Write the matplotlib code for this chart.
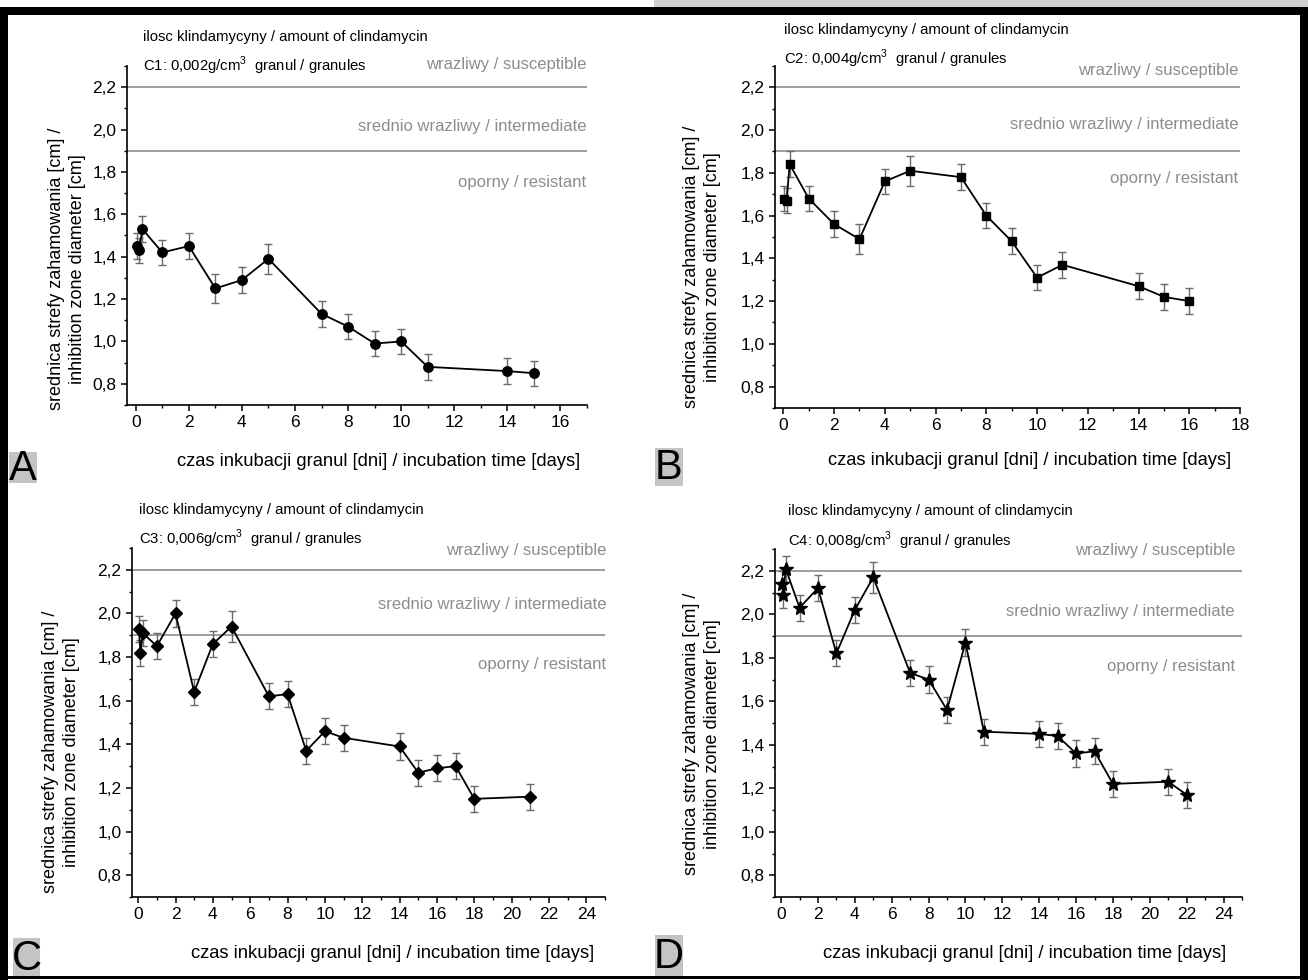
import matplotlib
matplotlib.use('Agg')
import matplotlib.pyplot as plt
from matplotlib.patches import Rectangle
from matplotlib.ticker import MultipleLocator, FuncFormatter
import numpy as np

W, H = 1308, 980

# sampling times [days]; first three are 1h, 3h, 6h
days_ab = [0.04, 0.125, 0.25, 1, 2, 3, 4, 5, 7, 8, 9, 10, 11, 14, 15, 16]
days_cd = [0.04, 0.125, 0.25, 1, 2, 3, 4, 5, 7, 8, 9, 10, 11, 14, 15, 16, 17, 18, 21, 22]

c1_days = days_ab[:15]
c1_mean = [1.45, 1.43, 1.53, 1.42, 1.45, 1.25, 1.29, 1.39, 1.13, 1.07, 0.99, 1.00, 0.88, 0.86, 0.85]
c1_err = [0.06, 0.06, 0.06, 0.06, 0.06, 0.07, 0.06, 0.07, 0.06, 0.06, 0.06, 0.06, 0.06, 0.06, 0.06]

c2_days = days_ab
c2_mean = [1.68, 1.67, 1.84, 1.68, 1.56, 1.49, 1.76, 1.81, 1.78, 1.60, 1.48, 1.31, 1.37, 1.27, 1.22, 1.20]
c2_err = [0.06, 0.06, 0.06, 0.06, 0.06, 0.07, 0.06, 0.07, 0.06, 0.06, 0.06, 0.06, 0.06, 0.06, 0.06, 0.06]

c3_days = days_cd[:17] + [18, 21]
c3_mean = [1.93, 1.82, 1.91, 1.85, 2.00, 1.64, 1.86, 1.94, 1.62, 1.63, 1.37, 1.46, 1.43, 1.39, 1.27, 1.29, 1.30, 1.15, 1.16]
c3_err = [0.06, 0.06, 0.06, 0.06, 0.06, 0.06, 0.06, 0.07, 0.06, 0.06, 0.06, 0.06, 0.06, 0.06, 0.06, 0.06, 0.06, 0.06, 0.06]

c4_days = days_cd
c4_mean = [2.14, 2.09, 2.21, 2.03, 2.12, 1.82, 2.02, 2.17, 1.73, 1.70, 1.56, 1.87, 1.46, 1.45, 1.44, 1.36, 1.37, 1.22, 1.23, 1.17]
c4_err = [0.06, 0.06, 0.06, 0.06, 0.06, 0.06, 0.06, 0.07, 0.06, 0.06, 0.06, 0.06, 0.06, 0.06, 0.06, 0.06, 0.06, 0.06, 0.06, 0.06]

susceptible_limit = 2.2
resistant_limit = 1.9

doses = ['C1: 0,002g/cm$^3$  granul / granules', 'C2: 0,004g/cm$^3$  granul / granules',
         'C3: 0,006g/cm$^3$  granul / granules', 'C4: 0,008g/cm$^3$  granul / granules']
letters = ['A', 'B', 'C', 'D']
header = 'ilosc klindamycyny / amount of clindamycin'
zone_labels = ['wrazliwy / susceptible', 'srednio wrazliwy / intermediate', 'oporny / resistant']
ylab = 'srednica strefy zahamowania [cm] /\ninhibition zone diameter [cm]'
xlab = 'czas inkubacji granul [dni] / incubation time [days]'

plt.rcParams['font.family'] = ['Liberation Sans', 'DejaVu Sans']
plt.rcParams['mathtext.fontset'] = 'custom'
plt.rcParams['mathtext.rm'] = 'Liberation Sans'

fig = plt.figure(figsize=(W / 100, H / 100), dpi=100)


def fx(x):
    return x / W


def fy(y):
    return 1 - y / H


def rect(x, y, w, h, c):
    fig.add_artist(Rectangle((fx(x), fy(y + h)), w / W, h / H, transform=fig.transFigure,
                             color=c, lw=0, zorder=10))


def ftext(x, y, s, **kw):
    fig.text(fx(x), fy(y), s, **kw)


comma = FuncFormatter(lambda v, p: ('%.1f' % v).replace('.', ','))

panels = [
    # data, marker, ms, xmax, axes box (l, t, r, b), text positions
    dict(x=c1_days, y=c1_mean, e=c1_err, m='o', ms=6.8, xmax=17, box=(127, 66, 587, 405),
         hx=143, hy=(37, 66), zr=586, zy=(64, 126, 182), yl=(67, 269), xl=(379, 462),
         let=(9, 452, 28, 31)),
    dict(x=c2_days, y=c2_mean, e=c2_err, m='s', ms=6.0, xmax=18, box=(775, 66, 1240, 408),
         hx=784, hy=(30, 59), zr=1238, zy=(70, 124, 178), yl=(702, 267), xl=(1030, 460),
         let=(655, 448, 28, 38)),
    dict(x=c3_days, y=c3_mean, e=c3_err, m='D', ms=6.5, xmax=25, box=(132, 548, 605, 897),
         hx=139, hy=(510, 539), zr=606, zy=(551, 604, 664), yl=(61, 752), xl=(393, 953),
         let=(13, 938, 27, 39)),
    dict(x=c4_days, y=c4_mean, e=c4_err, m='*', ms=10, xmax=25, box=(775, 549, 1242, 897),
         hx=788, hy=(511, 541), zr=1235, zy=(551, 611, 667), yl=(702, 734), xl=(1025, 953),
         let=(655, 935, 28, 42)),
]

for i, p in enumerate(panels):
    l, t, r, b = p['box']
    ax = fig.add_axes([fx(l), fy(b), (r - l) / W, (b - t) / H])
    ax.set_xlim(-0.33, p['xmax'])
    ax.set_ylim(0.7, 2.3)
    for lim in (susceptible_limit, resistant_limit):
        ax.axhline(lim, color='#8c8c8c', lw=1.2, zorder=1)
    ax.errorbar(p['x'], p['y'], yerr=p['e'], fmt='none', ecolor='#6a6a6a', elinewidth=1,
                capsize=3.2, capthick=1, zorder=2)
    ax.plot(p['x'], p['y'], color='black', lw=1.3, marker=p['m'], ms=p['ms'],
            mfc='black', mec='black', zorder=3)
    for s in ('top', 'right'):
        ax.spines[s].set_visible(False)
    for s in ('left', 'bottom'):
        ax.spines[s].set_linewidth(1.2)
    ax.xaxis.set_major_locator(MultipleLocator(2))
    ax.xaxis.set_minor_locator(MultipleLocator(1))
    ax.yaxis.set_major_locator(MultipleLocator(0.2))
    ax.yaxis.set_minor_locator(MultipleLocator(0.1))
    ax.yaxis.set_major_formatter(comma)
    ax.set_yticks(np.arange(0.8, 2.21, 0.2))
    ax.tick_params(which='major', direction='out', length=4.5, width=1.1, labelsize=12.5, pad=3)
    ax.tick_params(which='minor', direction='out', length=2.5, width=1.0)
    ax.patch.set_alpha(0)

    ftext(p['hx'], p['hy'][0], header, fontsize=10.7, va='center', ha='left')
    ftext(p['hx'], p['hy'][1], doses[i], fontsize=10.7, va='center', ha='left')
    for lab, yy in zip(zone_labels, p['zy']):
        ftext(p['zr'], yy, lab, fontsize=12, color='#8c8c8c', ha='right', va='center')
    ftext(p['yl'][0], p['yl'][1], ylab, fontsize=13, rotation=90, ha='center', va='center',
          multialignment='center', linespacing=1.3)
    ftext(p['xl'][0], p['xl'][1], xlab, fontsize=13.2, ha='center', va='center')

    lx, ly, lw_, lh = p['let']
    rect(lx, ly, lw_, lh, '#c4c4c4')
    ftext(lx + lw_ / 2, ly + lh / 2 + 1, letters[i], fontsize=30, ha='center', va='center',
          zorder=11)

# outer frame of the composite figure
rect(654, 0, 654, 7, '#d0d0d0')
rect(0, 7, W, 8, 'black')
rect(0, 7, 8, H - 7, 'black')
rect(1300, 7, 8, H - 7, 'black')
rect(0, 976, W, 3, 'black')

fig.savefig('out.png', dpi=100)
